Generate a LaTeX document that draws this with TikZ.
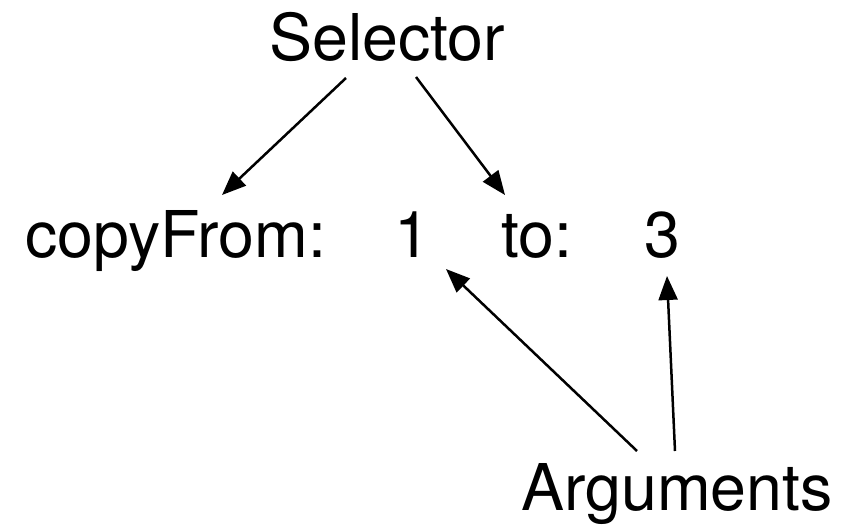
\documentclass[tikz,border=0pt]{standalone}
\usepackage{fontspec}
\setmainfont{TeX Gyre Heros}
\usetikzlibrary{arrows.meta}
\begin{document}
\begin{tikzpicture}[x=1pt,y=-1pt,
  lbl/.style={anchor=base west,inner sep=0pt,font=\fontsize{64.5}{70}\selectfont},
  arr/.style={line width=2.5pt,-{Triangle[length=24pt,width=19pt]}}]
\useasboundingbox (0,0) rectangle (862,525);
\node[lbl] (sel) at (269,60) {Selector};
\node[lbl] (cf) at (25,257) {copyFrom:};
\node[lbl] (one) at (394,257) {1};
\node[lbl] (to) at (501,257) {to:};
\node[lbl] (three) at (644,257) {3};
\node[lbl] (arg) at (521,510) {Arguments};
\draw[arr] ([shift={(77,18)}]sel.base west) -- ([shift={(197,-62)}]cf.base west);
\draw[arr] ([shift={(147,17)}]sel.base west) -- ([shift={(4,-62)}]to.base west);
\draw[arr] ([shift={(116,-59)}]arg.base west) -- ([shift={(52,12)}]one.base west);
\draw[arr] ([shift={(154,-59)}]arg.base west) -- ([shift={(23,19)}]three.base west);
\end{tikzpicture}
\end{document}
